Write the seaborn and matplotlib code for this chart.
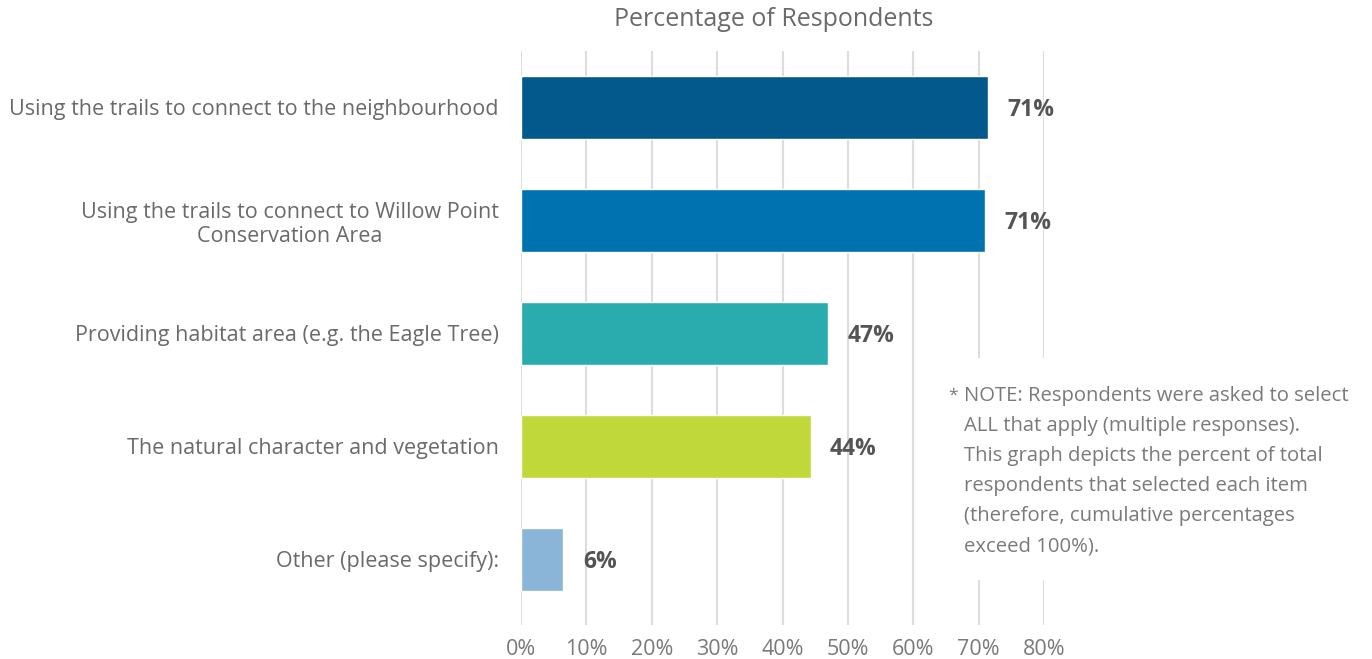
import matplotlib
matplotlib.use("Agg")
import matplotlib.pyplot as plt
from matplotlib.patches import Rectangle
import seaborn as sns
import pandas as pd

# Survey answers and share of respondents (%)
categories = [
    "Using the trails to connect to the neighbourhood",
    "Using the trails to connect to Willow Point\nConservation Area",
    "Providing habitat area (e.g. the Eagle Tree)",
    "The natural character and vegetation",
    "Other (please specify):",
]
percent = [71.4, 70.9, 47.0, 44.3, 6.5]
value_labels = ["71%", "71%", "47%", "44%", "6%"]
bar_colors = ["#04598C", "#0072AF", "#2AACAF", "#C1D83B", "#8AB4D8"]
x_ticks = [0, 10, 20, 30, 40, 50, 60, 70, 80]
x_tick_labels = [f"{t}%" for t in x_ticks]
title = "Percentage of Respondents"
note = ("NOTE: Respondents were asked to select\n"
        "ALL that apply (multiple responses).\n"
        "This graph depicts the percent of total\n"
        "respondents that selected each item\n"
        "(therefore, cumulative percentages\n"
        "exceed 100%).")

sns.set_theme(style="white")
plt.rcParams['font.family'] = ['Open Sans', 'DejaVu Sans']

df = pd.DataFrame({"category": categories, "percent": percent})

fig = plt.figure(figsize=(13.72, 6.59), dpi=100)
ax = fig.add_axes([521 / 1372, 1 - 625 / 659, (1044 - 521) / 1372, (625 - 51) / 659])

sns.barplot(data=df, y="category", x="percent", hue="category",
            palette=bar_colors, orient="h", width=0.55, legend=False,
            saturation=1, ax=ax, zorder=3)

for cont, lab in zip(ax.containers, value_labels):
    txts = ax.bar_label(cont, labels=[lab], padding=14, fontsize=16.5,
                        fontweight="bold", color="#545454")
    for t in txts:
        t.set_va("center_baseline")

ax.set_xlim(0, 80)
ax.set_ylim(4.58, -0.5)
ax.set_xticks(x_ticks)
ax.set_xticklabels(x_tick_labels, fontsize=15.5, color="#7a7a7a")
ax.tick_params(axis="x", pad=10, length=0)
ax.tick_params(axis="y", pad=16, length=0, labelsize=15.5, labelcolor="#6a6a6a")
for lbl in ax.get_yticklabels():
    lbl.set_multialignment("center")
ax.set_xlabel("")
ax.set_ylabel("")
ax.xaxis.grid(True, color="#DDDDDD", linewidth=1.5, zorder=0)
ax.set_axisbelow(True)
for s in ax.spines.values():
    s.set_visible(False)

fig.text(774 / 1372, 1 - 19 / 659, title, ha="center", va="center",
         fontsize=18, color="#6a6a6a")

# white box behind the note hides the gridlines there
fig.add_artist(Rectangle((940 / 1372, 1 - 580 / 659), 432 / 1372, 222 / 659,
                         transform=fig.transFigure, facecolor="white",
                         edgecolor="none", zorder=5))
fig.text(948 / 1372, 1 - 388 / 659, "*", ha="left", va="top",
         fontsize=12.5, color="#7a7a7a", zorder=6)
fig.text(964 / 1372, 1 - 386 / 659, note, ha="left", va="top",
         fontsize=14.6, color="#7a7a7a", linespacing=1.67, zorder=6)

fig.savefig("out.png", dpi=100)
